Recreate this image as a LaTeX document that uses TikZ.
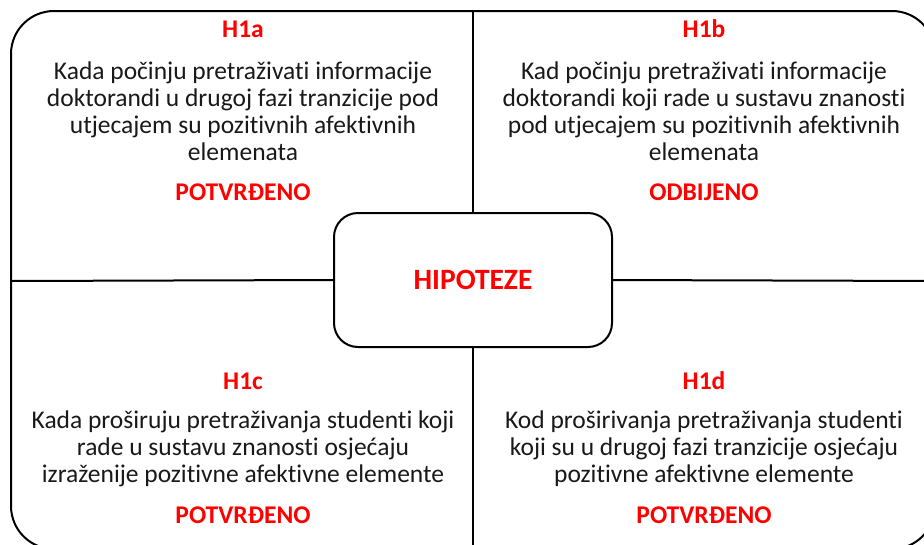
\documentclass[tikz,border=0pt]{standalone}
\usepackage{fontspec}
\setmainfont{Carlito}[Ligatures={NoCommon,NoContextual},Contextuals=NoAlternate]
\begin{document}
\begin{tikzpicture}[x=1pt,y=-1pt,
  frame/.style={line width=2pt,draw=black},
  divider/.style={line width=2pt,draw=black},
  hyp/.style={frame,rounded corners=24pt,fill=white,minimum width=278pt,minimum height=134pt,
    font=\fontsize{29.5}{34}\selectfont\bfseries,text=red},
  head/.style={font=\fontsize{25.5}{27}\selectfont\bfseries,text=red,anchor=base},
  body/.style={font=\fontsize{25.5}{27}\selectfont,text=black!90,align=center,anchor=base},
  verdict/.style={font=\fontsize{25.5}{27}\selectfont\bfseries,text=red,anchor=base}]
\useasboundingbox (0,0) rectangle (924,544);
\clip (0,0) rectangle (924,544);
\draw[frame,rounded corners=43pt] (11,11) rectangle (935,549);
\node[hyp] (h) at (473,280) {HIPOTEZE};
\coordinate (top) at (473,11);
\coordinate (bot) at (473,549);
\coordinate (lft) at (11,281);
\coordinate (rgt) at (935,281);
\draw[divider] (top) -- (h.north);
\draw[divider] (h.south) -- (bot);
\draw[divider] (lft) -- (h.west);
\draw[divider] (h.east) -- (rgt);
% H1a
\node[head] (ta) at (243,37) {H1a};
\node[body] (ba) at (243,160) {Kada počinju pretraživati informacije\\doktorandi u drugoj fazi tranzicije pod\\utjecajem su pozitivnih afektivnih\\elemenata};
\node[verdict] (va) at (243,200) {POTVRĐENO};
% H1b
\node[head] (tb) at (704,37) {H1b};
\node[body] (bb) at (704,160) {Kad počinju pretraživati informacije\\doktorandi koji rade u sustavu znanosti\\pod utjecajem su pozitivnih afektivnih\\elemenata};
\node[verdict] (vb) at (704,200) {ODBIJENO};
% H1c
\node[head] (tc) at (243,389) {H1c};
\node[body] (bc) at (243,482) {Kada proširuju pretraživanja studenti koji\\rade u sustavu znanosti osjećaju\\izraženije pozitivne afektivne elemente};
\node[verdict] (vc) at (243,523) {POTVRĐENO};
% H1d
\node[head] (td) at (704,389) {H1d};
\node[body] (bd) at (704,482) {Kod proširivanja pretraživanja studenti\\koji su u drugoj fazi tranzicije osjećaju\\pozitivne afektivne elemente};
\node[verdict] (vd) at (704,523) {POTVRĐENO};
\end{tikzpicture}
\end{document}
